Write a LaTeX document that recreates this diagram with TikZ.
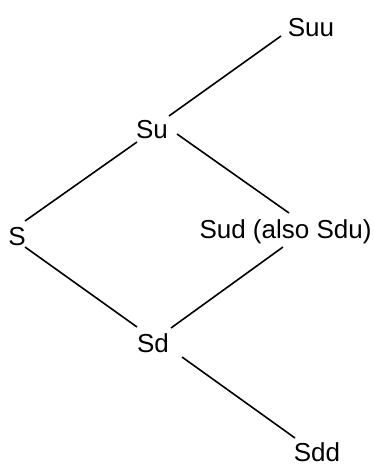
\documentclass[tikz,border=0pt]{standalone}
\usepackage{fontspec}
\setmainfont{Liberation Sans}
\begin{document}
\begin{tikzpicture}[x=1pt,y=-1pt,
  lbl/.style={anchor=base,inner sep=0pt,font=\fontsize{26}{30}\selectfont},
  edge/.style={line width=1.6pt,black}]
\useasboundingbox (0,0) rectangle (374,464);
\node[lbl] (S) at (17,245) {S};
\node[lbl] (Su) at (152,138) {Su};
\node[lbl] (Suu) at (311,36) {Suu};
\node[lbl] (Sud) at (285.5,238) {Sud (also Sdu)};
\node[lbl] (Sd) at (153,352) {Sd};
\node[lbl] (Sdd) at (317,461) {Sdd};
\draw[edge] ([shift={(8,-24)}]S.base) -- ([shift={(-15,4)}]Su.base);
\draw[edge] ([shift={(17,-22)}]Su.base) -- ([shift={(-30,0)}]Suu.base);
\draw[edge] ([shift={(25,-4)}]Su.base) -- ([shift={(3.5,-25)}]Sud.base);
\draw[edge] ([shift={(8,2)}]S.base) -- ([shift={(-16,-25)}]Sd.base);
\draw[edge] ([shift={(18,-24)}]Sd.base) -- ([shift={(-2.5,9)}]Sud.base);
\draw[edge] ([shift={(29,5)}]Sd.base) -- ([shift={(-22,-23)}]Sdd.base);
\end{tikzpicture}
\end{document}
